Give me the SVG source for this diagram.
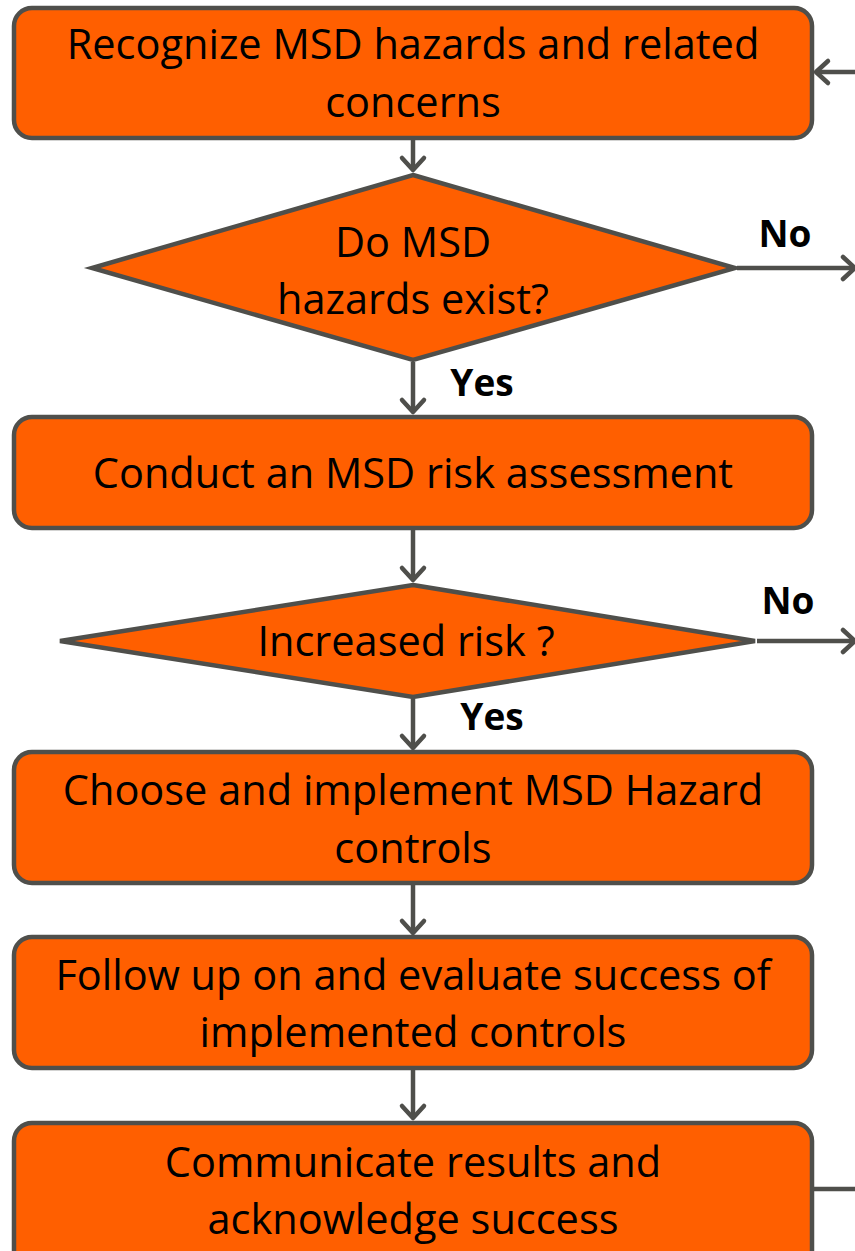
<svg xmlns="http://www.w3.org/2000/svg" width="855" height="1251" viewBox="0 0 855 1251">
<defs>
<marker id="arr" markerUnits="userSpaceOnUse" markerWidth="30" markerHeight="30" refX="15" refY="15" orient="auto" overflow="visible">
<path d="M3,4 L15,15 L3,26" fill="none" stroke="#4F4F4B" stroke-width="4.5" stroke-linecap="round" stroke-linejoin="round"/>
</marker>
</defs>
<style>
.box{fill:#FF5F00;stroke:#4F4F4B;stroke-width:4.5}
.t{font-family:"Open Sans","DejaVu Sans",sans-serif;font-size:41.5px;fill:#000;text-anchor:middle}
.lb{font-family:"Open Sans","DejaVu Sans",sans-serif;font-size:37px;font-weight:bold;fill:#000;text-anchor:middle}
.c{fill:none;stroke:#4F4F4B;stroke-width:4.5}
</style>
<rect width="855" height="1251" fill="#fff"/>
<g id="connectors">
<line class="c" x1="413" y1="140" x2="413" y2="170" marker-end="url(#arr)"/>
<line class="c" x1="413" y1="362" x2="413" y2="412" marker-end="url(#arr)"/>
<line class="c" x1="413" y1="530" x2="413" y2="580" marker-end="url(#arr)"/>
<line class="c" x1="413" y1="699" x2="413" y2="748" marker-end="url(#arr)"/>
<line class="c" x1="413" y1="885" x2="413" y2="933" marker-end="url(#arr)"/>
<line class="c" x1="413" y1="1070" x2="413" y2="1118" marker-end="url(#arr)"/>
<line class="c" x1="737" y1="268" x2="855" y2="268" marker-end="url(#arr)"/>
<line class="c" x1="757" y1="641" x2="855" y2="641" marker-end="url(#arr)"/>
<line class="c" x1="814" y1="1189" x2="855" y2="1189"/>
<line class="c" x1="855" y1="72" x2="816" y2="72" marker-end="url(#arr)"/>
<text class="lb" x="785" y="247">No</text>
<text class="lb" x="788" y="614">No</text>
<text class="lb" x="482" y="396">Yes</text>
<text class="lb" x="492" y="730">Yes</text>
</g>
<g id="n1">
<rect class="box" x="14" y="8" width="798" height="130" rx="18"/>
<text class="t" x="413" y="59">Recognize MSD hazards and related</text>
<text class="t" x="413" y="117">concerns</text>
</g>
<g id="d1">
<polygon class="box" points="413,175 735,268 413,360 92,268"/>
<text class="t" x="413" y="257">Do MSD</text>
<text class="t" x="413" y="314">hazards exist?</text>
</g>
<g id="n2">
<rect class="box" x="14" y="417" width="798" height="111" rx="18"/>
<text class="t" x="413" y="488">Conduct an MSD risk assessment</text>
</g>
<g id="d2">
<polygon class="box" points="413,585 755,641 413,697 60,641"/>
<text class="t" x="406" y="656">Increased risk ?</text>
</g>
<g id="n3">
<rect class="box" x="14" y="752" width="798" height="131" rx="18"/>
<text class="t" x="413" y="805">Choose and implement MSD Hazard</text>
<text class="t" x="413" y="863">controls</text>
</g>
<g id="n4">
<rect class="box" x="14" y="937" width="798" height="131" rx="18"/>
<text class="t" x="413" y="990">Follow up on and evaluate success of</text>
<text class="t" x="413" y="1047">implemented controls</text>
</g>
<g id="n5">
<rect class="box" x="14" y="1123" width="798" height="145" rx="18"/>
<text class="t" x="413" y="1177">Communicate results and</text>
<text class="t" x="413" y="1234">acknowledge success</text>
</g>
</svg>
